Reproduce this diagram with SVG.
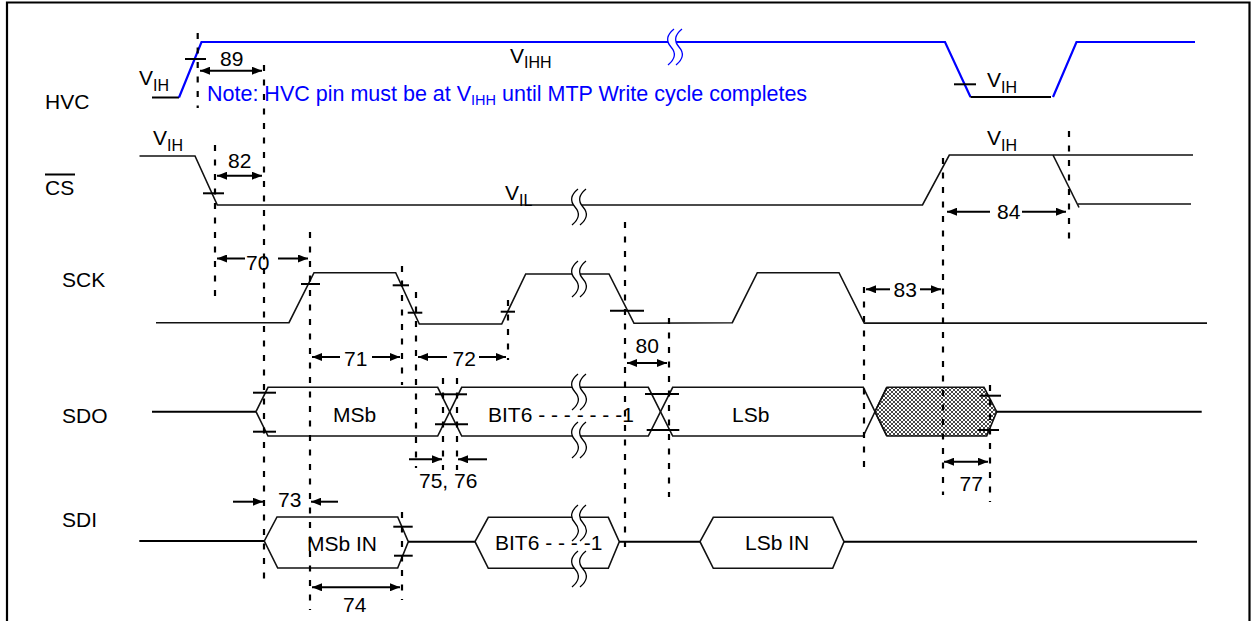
<svg xmlns="http://www.w3.org/2000/svg" width="1251" height="621" viewBox="0 0 1251 621">
<style>
text{font-family:"Liberation Sans",Arial,sans-serif;font-size:21px;fill:#000}
.sig{fill:none;stroke:#111;stroke-width:1.6;stroke-linejoin:miter}
.blue{fill:none;stroke:#0000ff;stroke-width:2.2}
.tick{stroke:#000;stroke-width:2}
.dash{stroke:#000;stroke-width:2.2;stroke-dasharray:6 8.5;fill:none}
.dim{stroke:#000;stroke-width:2;fill:none}
.dbl{marker-start:url(#ah);marker-end:url(#ah)}
.one{marker-end:url(#ah)}
.note{fill:#0000ff;font-size:21.5px}
</style>
<defs>
<marker id="ah" viewBox="0 0 10 8" refX="10" refY="4" markerWidth="10" markerHeight="8" markerUnits="userSpaceOnUse" orient="auto-start-reverse">
<path d="M0,0 L10,4 L0,8 Z" fill="#000"/>
</marker>
<pattern id="hatch" width="4" height="4" patternUnits="userSpaceOnUse">
<rect width="4" height="4" fill="#fff"/>
<path d="M0,0 L4,4 M4,0 L0,4" stroke="#333" stroke-width="0.9"/>
</pattern>
<g id="brk">
<path d="M3,-18 Q-8,-9 0,0 Q8,9 -3,18 L5,18 Q16,9 8,0 Q0,-9 11,-18 Z" fill="#fff" stroke="none"/>
<path d="M3,-18 Q-8,-9 0,0 Q8,9 -3,18 M11,-18 Q0,-9 8,0 Q16,9 5,18" fill="none" stroke="currentColor" stroke-width="1.3"/>
</g>
</defs>
<rect width="1251" height="621" fill="#fff"/>
<g id="frame">
<path d="M7,621 L7,2.5 L1249.5,2.5 L1249.5,621" fill="none" stroke="#000" stroke-width="2.2"/>
</g>
<g id="signal-labels">
<text x="45" y="108.5">HVC</text>
<text x="45" y="195">CS</text>
<line x1="45" y1="174.5" x2="75" y2="174.5" stroke="#000" stroke-width="2"/>
<text x="62" y="287">SCK</text>
<text x="62" y="423">SDO</text>
<text x="62" y="527">SDI</text>
</g>
<g id="hvc">
<line x1="152" y1="97.5" x2="179" y2="97.5" stroke="#000" stroke-width="2"/>
<polyline class="blue" points="179,97.5 201.5,42 945,42 970.5,97"/>
<line x1="970.5" y1="97" x2="1051" y2="97" stroke="#000" stroke-width="2"/>
<polyline class="blue" points="1053,97 1076.5,42 1195,42"/>
<line class="tick" x1="185" y1="59" x2="206" y2="59"/>
<line class="tick" x1="954" y1="84.3" x2="976" y2="84.3"/>
<use href="#brk" transform="translate(671,47)" color="#0000ff"/>
<text x="139" y="85" font-size="20">V<tspan font-size="16" dy="6">IH</tspan></text>
<text x="510" y="63" font-size="20">V<tspan font-size="16" dy="5">IHH</tspan></text>
<text x="987" y="86.5" font-size="20">V<tspan font-size="16" dy="6">IH</tspan></text>
<text class="note" x="207" y="101">Note: HVC pin must be at V<tspan font-size="14.5" dy="4">IHH</tspan><tspan dy="-4"> until MTP Write cycle completes</tspan></text>
</g>
<g id="cs">
<polyline class="sig" points="139.5,156 195,156 217.3,205 922.5,205 949.3,155 1193,155"/>
<polyline class="sig" points="1053,155 1079,207.5"/>
<line class="sig" x1="1078" y1="204" x2="1191" y2="204"/>
<line class="tick" x1="203" y1="193.3" x2="224" y2="193.3"/>
<use href="#brk" transform="translate(575,207)" color="#000"/>
<text x="153" y="145" font-size="20">V<tspan font-size="16" dy="5.5">IH</tspan></text>
<text x="505" y="200" font-size="20">V<tspan font-size="16" dy="5.5">IL</tspan></text>
<text x="987" y="145" font-size="20">V<tspan font-size="16" dy="5.5">IH</tspan></text>
</g>
<g id="sck">
<polyline class="sig" points="156,322.7 289,322.7 314,272.7 395.7,272.7 419.3,324 501.7,324 525.7,274 609,274 634,323.3 732.3,322.7 757.3,272.7 839,272.7 864.3,323.3 1207,323.3"/>
<line class="sig" x1="864.3" y1="323.3" x2="1207" y2="323.3" stroke-width="2"/>
<use href="#brk" transform="translate(575,279)" color="#000"/>
<line class="tick" x1="301" y1="284" x2="320" y2="284"/>
<line class="tick" x1="392.7" y1="285.3" x2="409" y2="285.3"/>
<line class="tick" x1="407.7" y1="312.7" x2="422.3" y2="312.7"/>
<line class="tick" x1="500.7" y1="311.7" x2="515" y2="311.7"/>
<line class="tick" x1="610" y1="310.7" x2="644" y2="310.7"/>
</g>
<g id="sdo">
<line x1="152" y1="411.7" x2="256" y2="411.7" stroke="#000" stroke-width="2"/>
<path class="sig" d="M256,411.7 L268,387.3 L437.7,387.3 L461.7,436 L648.3,436 L672.7,387.3 L863.3,387.3 L886.7,436"/>
<path class="sig" d="M256,411.7 L268,436 L437.7,436 L461.7,387.3 L648.3,387.3 L672.7,436 L863.3,436 L886.7,387.3"/>
<polygon points="875,411.7 887,387.3 984,387.3 996.7,411.7 986.7,436 887,436" fill="url(#hatch)" stroke="#111" stroke-width="1.6"/>
<line x1="996.7" y1="411.7" x2="1201.7" y2="411.7" stroke="#000" stroke-width="2"/>
<use href="#brk" transform="translate(575,392)" color="#000"/>
<use href="#brk" transform="translate(575,440)" color="#000"/>
<line class="tick" x1="253" y1="392.7" x2="276" y2="392.7"/>
<line class="tick" x1="253" y1="431.7" x2="276" y2="431.7"/>
<line class="tick" x1="435" y1="394.3" x2="467" y2="394.3"/>
<line class="tick" x1="435" y1="424.3" x2="468" y2="424.3"/>
<line class="tick" x1="645" y1="394" x2="679" y2="394"/>
<line class="tick" x1="646.7" y1="430" x2="679.3" y2="430"/>
<line class="tick" x1="980" y1="395.7" x2="1001" y2="395.7"/>
<line class="tick" x1="977.7" y1="430" x2="999" y2="430"/>
<text x="333" y="421.7">MSb</text>
<text x="488" y="421.7">BIT6 - - - - - - -1</text>
<text x="732" y="422">LSb</text>
</g>
<g id="sdi">
<line x1="139.3" y1="541" x2="264.3" y2="541" stroke="#000" stroke-width="2"/>
<polygon class="sig" points="264.3,541 277,517 397.7,517 408.3,541.7 397.7,568 277.7,568"/>
<line x1="408.3" y1="541.7" x2="475" y2="541.7" stroke="#000" stroke-width="2"/>
<polygon class="sig" points="475,541.7 488.3,517.3 608.3,517.3 619.3,541.7 608.3,568.3 488.3,568.3"/>
<line x1="619.3" y1="541.7" x2="700" y2="541.7" stroke="#000" stroke-width="2"/>
<polygon class="sig" points="700,541.7 713.3,517.3 832.7,517.3 844,541.7 832.7,568.3 713.3,568.3"/>
<line x1="844" y1="541.7" x2="1197" y2="541.7" stroke="#000" stroke-width="2"/>
<use href="#brk" transform="translate(575,523)" color="#000"/>
<use href="#brk" transform="translate(575,569)" color="#000"/>
<line class="tick" x1="393.3" y1="526.7" x2="412.7" y2="526.7"/>
<line class="tick" x1="394" y1="555.7" x2="412.7" y2="555.7"/>
<text x="307" y="551">MSb IN</text>
<text x="495" y="550">BIT6 - - - -1</text>
<text x="745" y="550">LSb IN</text>
</g>
<g id="connectors">
<line class="dash" x1="197.7" y1="33" x2="197.7" y2="108"/>
<line class="dash" x1="264" y1="65" x2="264" y2="580"/>
<line class="dash" x1="215" y1="145" x2="215" y2="302"/>
<line class="dash" x1="310" y1="232" x2="310" y2="610"/>
<line class="dash" x1="402" y1="266" x2="402" y2="385"/>
<line class="dash" x1="416" y1="292" x2="416" y2="468"/>
<line class="dash" x1="508" y1="300" x2="508" y2="360"/>
<line class="dash" x1="625" y1="222" x2="625" y2="551"/>
<line class="dash" x1="669" y1="318" x2="669" y2="497"/>
<line class="dash" x1="864" y1="287" x2="864" y2="468"/>
<line class="dash" x1="943" y1="158" x2="943" y2="495"/>
<line class="dash" x1="1069" y1="131" x2="1069" y2="242"/>
<line class="dash" x1="443" y1="378" x2="443" y2="470"/>
<line class="dash" x1="457" y1="378" x2="457" y2="470"/>
<line class="dash" x1="990" y1="385" x2="990" y2="502"/>
<line class="dash" x1="402" y1="512" x2="402" y2="600"/>
<line class="dim dbl" x1="200" y1="70.7" x2="262" y2="70.7"/>
<line class="dim dbl" x1="217" y1="175.7" x2="262" y2="175.7"/>
<line class="dim one" x1="245" y1="258.5" x2="217" y2="258.5"/>
<line class="dim one" x1="278" y1="258.5" x2="308" y2="258.5"/>
<line class="dim one" x1="890" y1="289.3" x2="866" y2="289.3"/>
<line class="dim one" x1="920" y1="289.3" x2="941" y2="289.3"/>
<line class="dim one" x1="990" y1="211.7" x2="947" y2="211.7"/>
<line class="dim one" x1="1022" y1="211.7" x2="1066" y2="211.7"/>
<line class="dim one" x1="340" y1="357" x2="312" y2="357"/>
<line class="dim one" x1="372" y1="357" x2="400" y2="357"/>
<line class="dim one" x1="447" y1="357" x2="418" y2="357"/>
<line class="dim one" x1="479" y1="357" x2="506" y2="357"/>
<line class="dim dbl" x1="627" y1="363" x2="667" y2="363"/>
<line class="dim one" x1="409" y1="459.3" x2="442" y2="459.3"/>
<line class="dim one" x1="487" y1="459.3" x2="458" y2="459.3"/>
<line class="dim dbl" x1="944" y1="461.7" x2="988" y2="461.7"/>
<line class="dim one" x1="233" y1="501.7" x2="263" y2="501.7"/>
<line class="dim one" x1="338" y1="501.7" x2="311" y2="501.7"/>
<line class="dim dbl" x1="312" y1="587.3" x2="400" y2="587.3"/>
</g>
<g id="timing-labels">
<text x="220" y="66">89</text>
<text x="228" y="167.7">82</text>
<text x="246" y="269.5">70</text>
<text x="893.5" y="296.7">83</text>
<text x="997" y="219">84</text>
<text x="344" y="365.5">71</text>
<text x="452.5" y="366">72</text>
<text x="635.5" y="353">80</text>
<text x="419" y="488">75, 76</text>
<text x="959.5" y="491">77</text>
<text x="278" y="506.7">73</text>
<text x="343" y="611.7">74</text>
</g>
</svg>
